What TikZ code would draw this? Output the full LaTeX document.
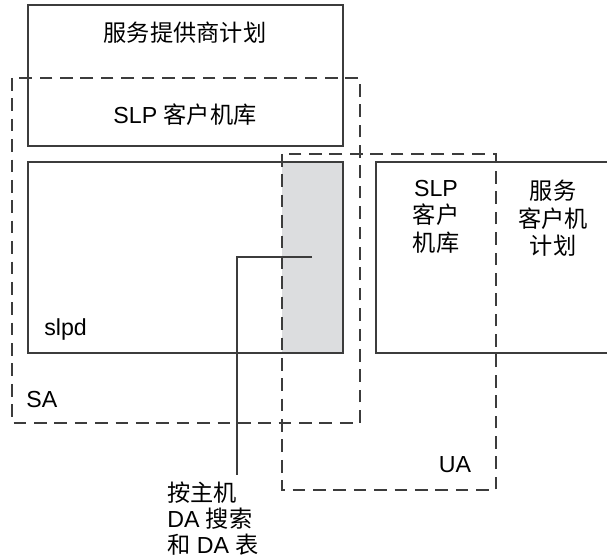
\documentclass[tikz,border=0pt]{standalone}
\usepackage{fontspec}
\setmainfont{Liberation Sans}
\newfontfamily\cjk{Noto Sans CJK SC}
\usetikzlibrary{positioning}

\definecolor{linegray}{HTML}{3C3C3C}
\definecolor{dafill}{HTML}{DCDDDF}

\tikzset{
    solidbox/.style={draw=linegray, line width=0.9pt},
    dashbox/.style={draw=linegray, line width=0.9pt, dash pattern=on 9pt off 5.5pt},
    txt/.style={font=\fontsize{16.5}{19.5}\selectfont, text=black, inner sep=0pt}
}

\begin{document}
\begin{tikzpicture}[x=0.025cm, y=-0.025cm]
            \useasboundingbox (0,0) rectangle (607,557);

            % Shaded part of slpd
            \fill[dafill] (282,162) rectangle (343,353);

            % Service provider boxes
            \draw[solidbox] (28,5) rectangle (343,146);
            \draw[solidbox] (28,162) rectangle (343,353);

            % Client box (open to the right)
            \draw[solidbox] (607,162) -- (376,162) -- (376,353) -- (607,353);

            % SA and UA
            \draw[dashbox] (12,78) rectangle (360,423);
            \draw[dashbox] (282,154) rectangle (496,490);

            % Labels
            \node[txt] (plan) at (185,33) {{\cjk 服务提供商计划}};
            \node[txt] (lib) at (185,115) {SLP {\cjk 客户机库}};
            \node[txt, anchor=west] (slpd) at (44,330) {slpd};
            \node[txt, anchor=west] (sa) at (26,400) {SA};
            \node[txt] (ua) at (455,465) {UA};
            \node[txt, align=center, anchor=north] (clib) at (436,180) {SLP\\{\cjk 客户}\\{\cjk 机库}};
            \node[txt, align=center, anchor=north] (cplan) at (553,180) {{\cjk 服务}\\{\cjk 客户机}\\{\cjk 计划}};
            \node[txt, font=\fontsize{16.5}{18.5}\selectfont, align=left, anchor=north west] (dalbl) at (167,482)
                {{\cjk 按主机}\\DA {\cjk 搜索}\\{\cjk 和} DA {\cjk 表}};

            % Leader line
            \coordinate (tip) at (312,257);
            \coordinate (bend) at (237,257);
            \coordinate (foot) at (237,475);
            \draw[linegray, line width=0.9pt] (tip) -- (bend) -- (foot);

        \end{tikzpicture}
\end{document}
